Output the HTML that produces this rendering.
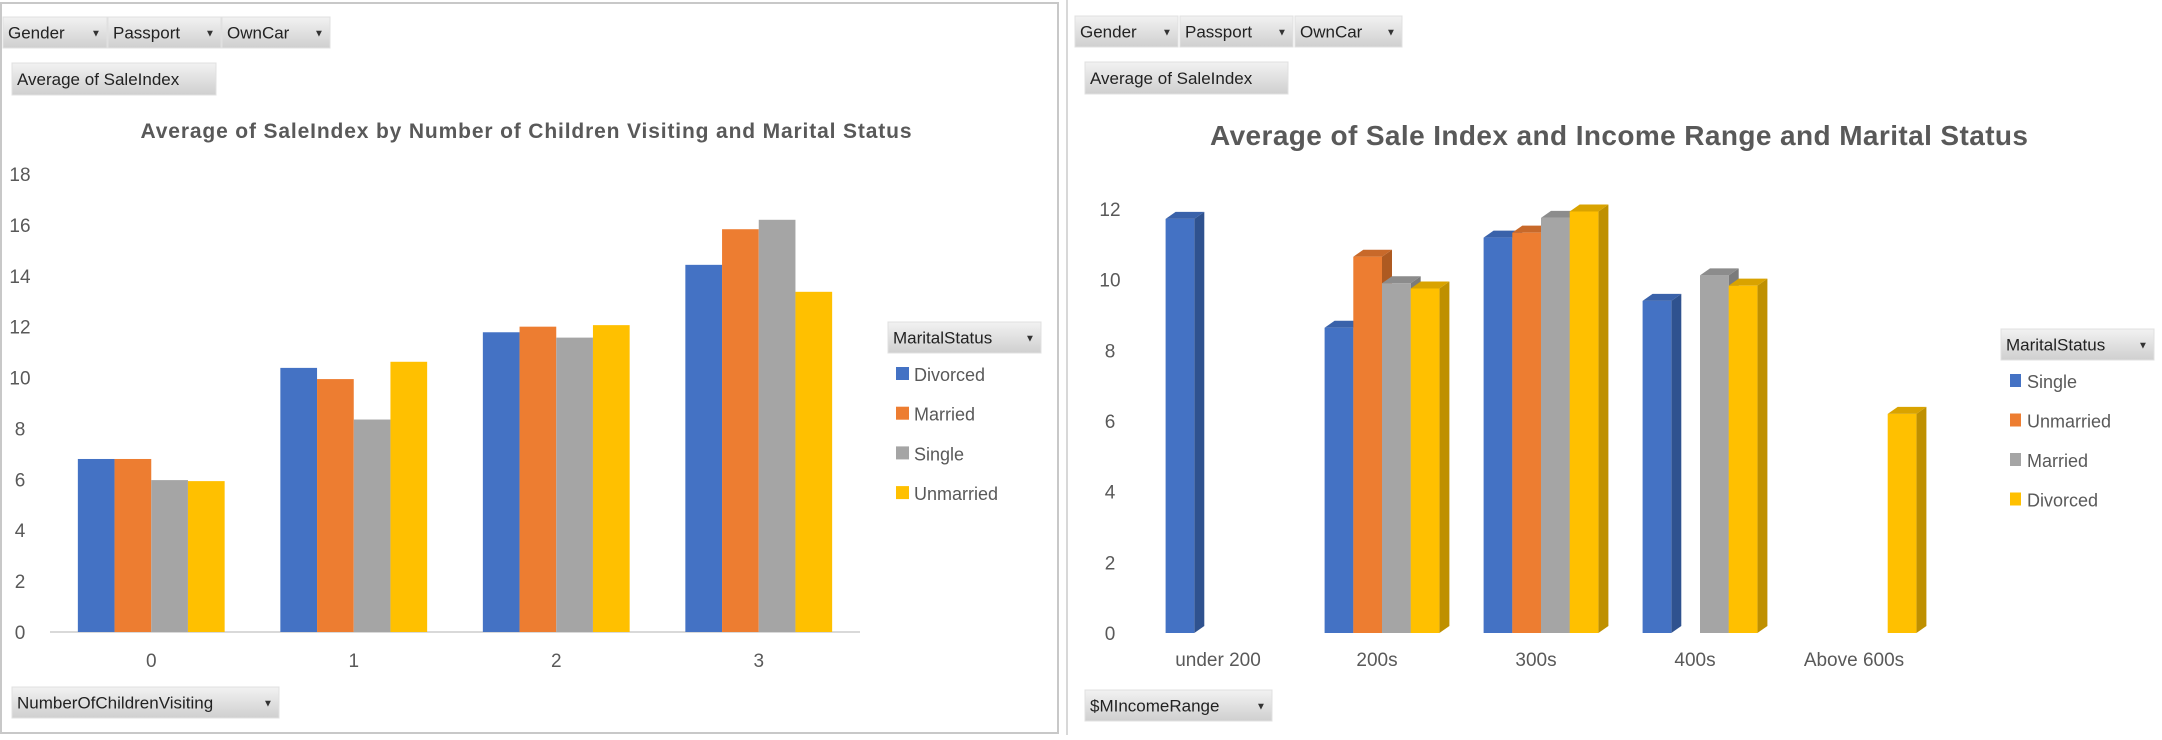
<!DOCTYPE html>
<html><head><meta charset="utf-8"><style>
body{margin:0;background:#fff;width:2162px;height:735px;overflow:hidden;font-family:"Liberation Sans",sans-serif}
svg text{font-family:"Liberation Sans",sans-serif}
</style></head><body>
<svg id="s" width="2162" height="735" xmlns="http://www.w3.org/2000/svg">
<defs><linearGradient id="btn" x1="0" y1="0" x2="0" y2="1"><stop offset="0" stop-color="#f2f2f2"/><stop offset="1" stop-color="#cfcfcf"/></linearGradient></defs>
<rect x="1" y="3" width="1057" height="730" fill="#fff" stroke="#c8c8c8" stroke-width="2"/>
<rect x="1067" y="0" width="1095" height="735" fill="#fff"/>
<line x1="1067" y1="0" x2="1067" y2="735" stroke="#d8d8d8" stroke-width="2"/>
<g id="L"></g><g id="R"></g>
</svg>
<script>
// Left chart data
const leftCategories = ["0","1","2","3"];
const leftSeriesNames = ["Divorced","Married","Single","Unmarried"];
const leftDivorced = [6.8, 10.38, 11.78, 14.43];
const leftMarried = [6.8, 9.94, 12.0, 15.83];
const leftSingle = [5.97, 8.35, 11.57, 16.2];
const leftUnmarried = [5.93, 10.62, 12.06, 13.37];
const leftTicks = [0,2,4,6,8,10,12,14,16,18];
// Right chart data
const rightCategories = ["under 200","200s","300s","400s","Above 600s"];
const rightSeriesNames = ["Single","Unmarried","Married","Divorced"];
const rightSingle = [11.72, 8.64, 11.19, 9.4, null];
const rightUnmarried = [null, 10.65, 11.33, null, null];
const rightMarried = [null, 9.9, 11.75, 10.12, null];
const rightDivorced = [null, 9.75, 11.93, 9.83, 6.2];
const rightTicks = [0,2,4,6,8,10,12];

const NS="http://www.w3.org/2000/svg";
const colors=["#4472C4","#ED7D31","#A5A5A5","#FFC000"];
const sides=["#2F528F","#AE5A21","#7B7B7B","#BF9000"];
const tops=["#3A62AA","#C8692A","#8C8C8C","#D9A300"];
function el(parent,tag,attrs,text){const e=document.createElementNS(NS,tag);for(const k in attrs)e.setAttribute(k,attrs[k]);if(text!==undefined)e.textContent=text;parent.appendChild(e);return e;}
function button(g,x,y,w,h,label,arrow,name,fs){
  const b=el(g,"g",{});
  
  
  el(b,"rect",{x:x,y:y,width:w,height:h,fill:"url(#btn)",stroke:"#e0e0e0"});
  el(b,"text",{x:x+5,y:y+h/2+6,"font-size":fs||17,fill:"#222"},label);
  if(arrow) el(b,"text",{x:x+w-16,y:y+h/2+4,"font-size":10,fill:"#333"},"▼");
}
// LEFT
const L=document.getElementById("L");
button(L,3,17,104,31,"Gender",true,"gender-filter");
button(L,108,17,113,31,"Passport",true,"passport-filter");
button(L,222,17,108,31,"OwnCar",true,"owncar-filter");
button(L,12,63,204,32,"Average of SaleIndex",false,"value-field-button");
button(L,12,687,267,31,"NumberOfChildrenVisiting",true,"axis-field-button");
let t=el(L,"text",{x:526,y:138,"font-size":21,"font-weight":"bold",fill:"#595959","text-anchor":"middle",textLength:771});
t.textContent="Average of SaleIndex by Number of Children Visiting and Marital  Status";

const lx0=50,lx1=860,ly0=632,lppu=458/18;
const ly=v=>ly0-v*lppu;
leftTicks.forEach(v=>{const tx=el(L,"text",{x:20,y:ly(v)+7,"font-size":19,fill:"#595959","text-anchor":"middle"},String(v));
 });
el(L,"line",{x1:lx0,y1:ly0,x2:lx1,y2:ly0,stroke:"#d9d9d9","stroke-width":2});
const lSeries=[leftDivorced,leftMarried,leftSingle,leftUnmarried];
const lcw=(lx1-lx0)/leftCategories.length, lbw=36.7;
leftCategories.forEach((c,i)=>{
  const gx=lx0+i*lcw+(lcw-4*lbw)/2;
  lSeries.forEach((s,j)=>{const v=s[i];const r=el(L,"rect",{x:gx+j*lbw,y:ly(v),width:lbw,height:ly0-ly(v),fill:colors[j]});
    });
  const lt=el(L,"text",{x:lx0+i*lcw+lcw/2,y:667,"font-size":19,fill:"#595959","text-anchor":"middle"},c);
  
});
button(L,888,322,153,31,"MaritalStatus",true,"left-legend-header");
leftSeriesNames.forEach((n,j)=>{const g=el(L,"g",{});
  
  const yy=374+j*39.7;el(g,"rect",{x:896,y:yy-7,width:13,height:13,fill:colors[j]});
  el(g,"text",{x:914,y:yy+7,"font-size":18,fill:"#595959"},n);});
// RIGHT
const R=document.getElementById("R");
button(R,1075,16,103,31,"Gender",true,"gender-filter-right");
button(R,1180,16,113,31,"Passport",true,"passport-filter-right");
button(R,1295,16,107,31,"OwnCar",true,"owncar-filter-right");
button(R,1085,62,203,32,"Average of SaleIndex",false,"value-field-button-right");
button(R,1085,690,187,31,"$MIncomeRange",true,"axis-field-button-right");
t=el(R,"text",{x:1619,y:145,"font-size":28,"font-weight":"bold",fill:"#595959","text-anchor":"middle",textLength:818});
t.textContent="Average of Sale Index and Income Range and Marital  Status";

const rx0=1143.5,rx1=1938.5,ry0=633,rppu=424/12;
const ry=v=>ry0-v*rppu;
rightTicks.forEach(v=>{const tx=el(R,"text",{x:1110,y:ry(v)+7,"font-size":19,fill:"#595959","text-anchor":"middle"},String(v));
 });
const rSeries=[rightSingle,rightUnmarried,rightMarried,rightDivorced];
const rcw=(rx1-rx0)/rightCategories.length, rbw=28.7, dx=10, dy=7;
rightCategories.forEach((c,i)=>{
  const gx=rx0+i*rcw+(rcw-4*rbw)/2;
  rSeries.forEach((s,j)=>{const v=s[i];if(v==null)return;
    const x=gx+j*rbw,y=ry(v);const g=el(R,"g",{});
    
    
    el(g,"polygon",{points:`${x+rbw},${y} ${x+rbw+dx},${y-dy} ${x+rbw+dx},${ry0-dy} ${x+rbw},${ry0}`,fill:sides[j]});
    el(g,"polygon",{points:`${x},${y} ${x+dx},${y-dy} ${x+rbw+dx},${y-dy} ${x+rbw},${y}`,fill:tops[j]});
    el(g,"rect",{x:x,y:y,width:rbw,height:ry0-y,fill:colors[j]});
  });
  const lt=el(R,"text",{x:rx0+i*rcw+rcw/2-5,y:666,"font-size":19,fill:"#595959","text-anchor":"middle"},c);
  
});
button(R,2001,329,153,31,"MaritalStatus",true,"right-legend-header");
rightSeriesNames.forEach((n,j)=>{const g=el(R,"g",{});
  
  const yy=381+j*39.5;el(g,"rect",{x:2010,y:yy-7,width:11,height:13,fill:colors[j]});
  el(g,"text",{x:2027,y:yy+7,"font-size":18,fill:"#595959"},n);});
</script>
</body></html>
